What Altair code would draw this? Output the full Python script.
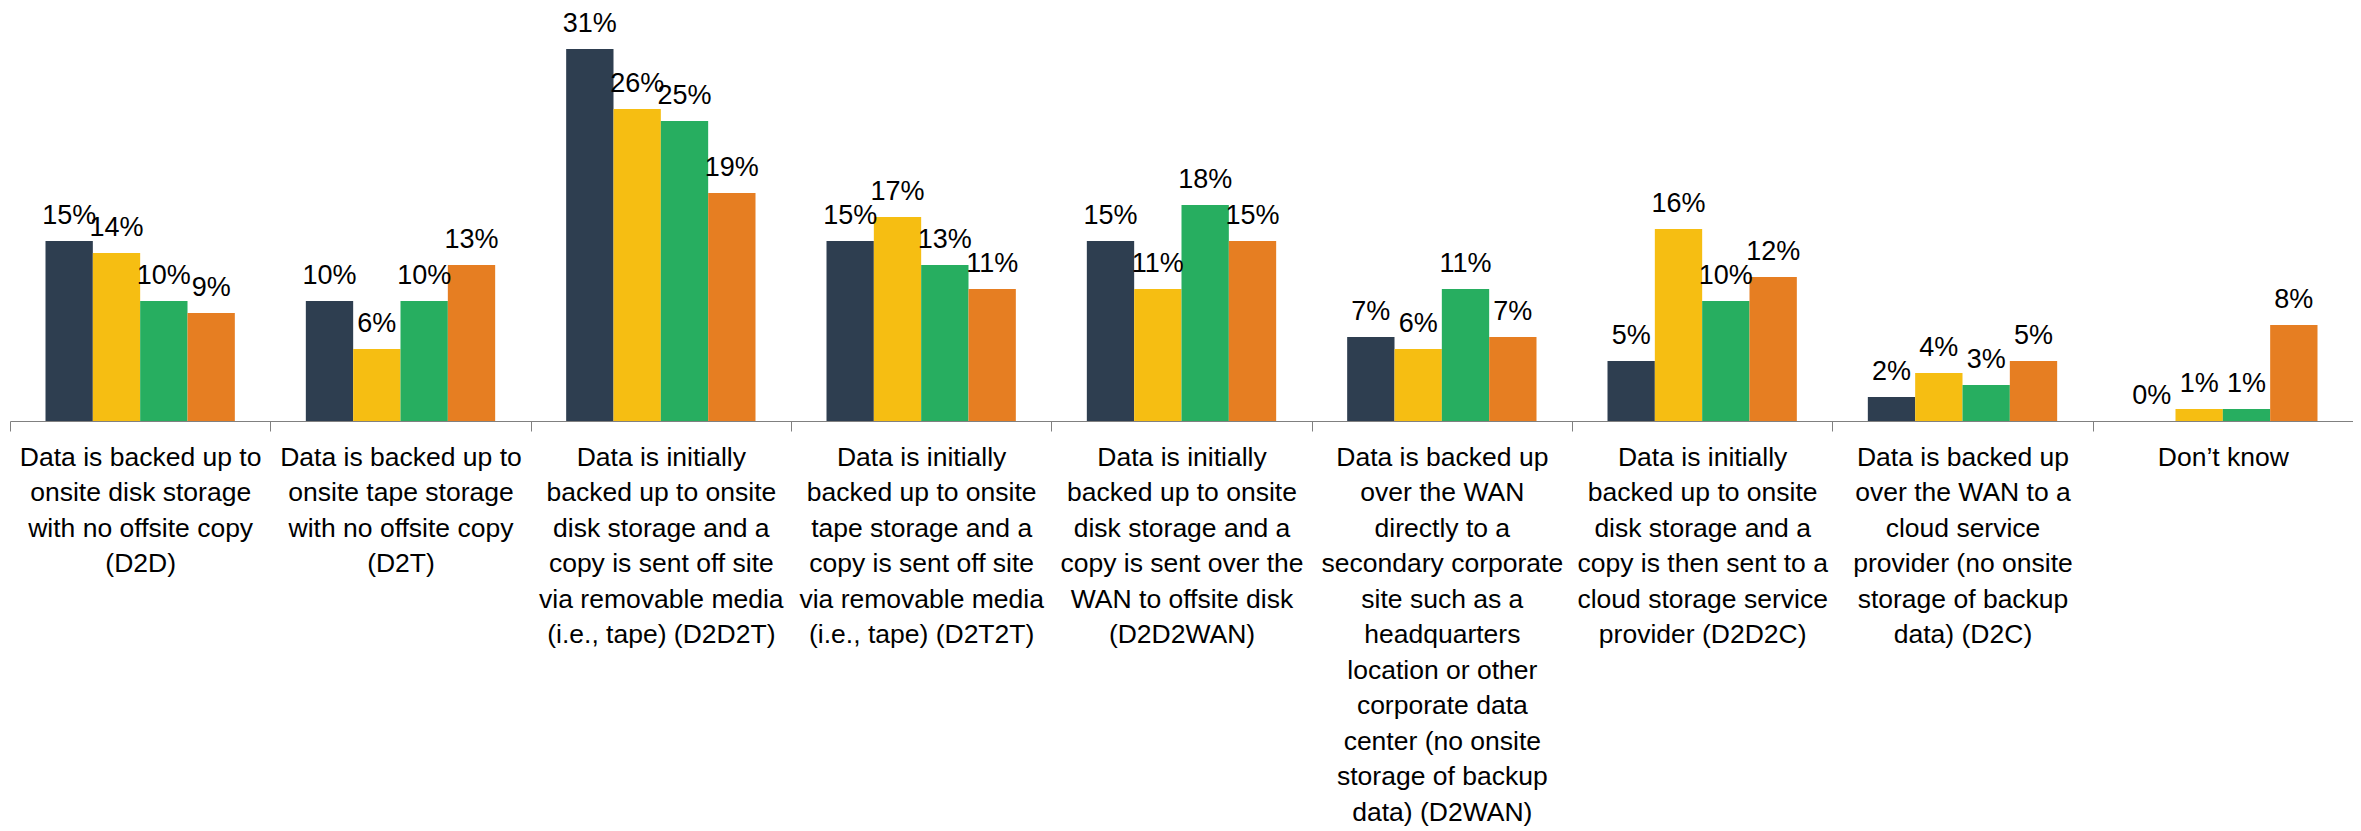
import altair as alt
import pandas as pd

categories = [
    "Data is backed up to|onsite disk storage|with no offsite copy|(D2D)",
    "Data is backed up to|onsite tape storage|with no offsite copy|(D2T)",
    "Data is initially|backed up to onsite|disk storage and a|copy is sent off site|via removable media|(i.e., tape) (D2D2T)",
    "Data is initially|backed up to onsite|tape storage and a|copy is sent off site|via removable media|(i.e., tape) (D2T2T)",
    "Data is initially|backed up to onsite|disk storage and a|copy is sent over the|WAN to offsite disk|(D2D2WAN)",
    "Data is backed up|over the WAN|directly to a|secondary corporate|site such as a|headquarters|location or other|corporate data|center (no onsite|storage of backup|data) (D2WAN)",
    "Data is initially|backed up to onsite|disk storage and a|copy is then sent to a|cloud storage service|provider (D2D2C)",
    "Data is backed up|over the WAN to a|cloud service|provider (no onsite|storage of backup|data) (D2C)",
    "Don’t know",
]
series = ["Series 1", "Series 2", "Series 3", "Series 4"]
series1 = [15, 10, 31, 15, 15, 7, 5, 2, 0]
series2 = [14, 6, 26, 17, 11, 6, 16, 4, 1]
series3 = [10, 10, 25, 13, 18, 11, 10, 3, 1]
series4 = [9, 13, 19, 11, 15, 7, 12, 5, 8]
colors = ["#2E3E50", "#F6BE12", "#27AE60", "#E67E22"]

FONT = "Liberation Sans Narrow, Arial Narrow, sans-serif"

rows = []
for name, vals in zip(series, [series1, series2, series3, series4]):
    for c, v in zip(categories, vals):
        rows.append({"category": c, "series": name, "value": v, "label": f"{v}%"})
df = pd.DataFrame(rows)

base = alt.Chart(df).encode(
    x=alt.X(
        "category:N",
        sort=categories,
        scale=alt.Scale(paddingInner=0, paddingOuter=0),
        axis=alt.Axis(
            title=None,
            labelAngle=0,
            labelExpr="split(datum.label, '|')",
            labelAlign="center",
            labelBaseline="top",
            labelFont=FONT,
            labelFontSize=26.5,
            labelLineHeight=35.5,
            labelColor="#000000",
            labelLimit=0,
            labelOverlap=False,
            labelBound=False,
            labelPadding=13,
            tickBand="extent",
            tickColor="#808080",
            tickSize=10,
            tickWidth=1,
            domainColor="#808080",
            domainWidth=1,
            grid=False,
        ),
    ),
    xOffset=alt.XOffset(
        "series:N", sort=series, scale=alt.Scale(paddingInner=0, paddingOuter=0.75)
    ),
    y=alt.Y(
        "value:Q",
        scale=alt.Scale(domain=[0, 405 / 12], nice=False, zero=True),
        axis=None,
    ),
)

bars = base.mark_bar().encode(
    color=alt.Color(
        "series:N", scale=alt.Scale(domain=series, range=colors), legend=None
    )
)

text = base.mark_text(
    baseline="alphabetic", dy=-17, fontSize=27, font=FONT, color="#000000"
).encode(text="label:N")

chart = (
    (bars + text)
    .properties(
        width=2343,
        height=405,
        padding={"left": 2, "top": 8, "right": 0, "bottom": 410},
        autosize=alt.AutoSizeParams(type="none"),
    )
    .configure_view(stroke=None)
)

chart.save("out.html", embed_options={"renderer": "svg", "actions": False})
